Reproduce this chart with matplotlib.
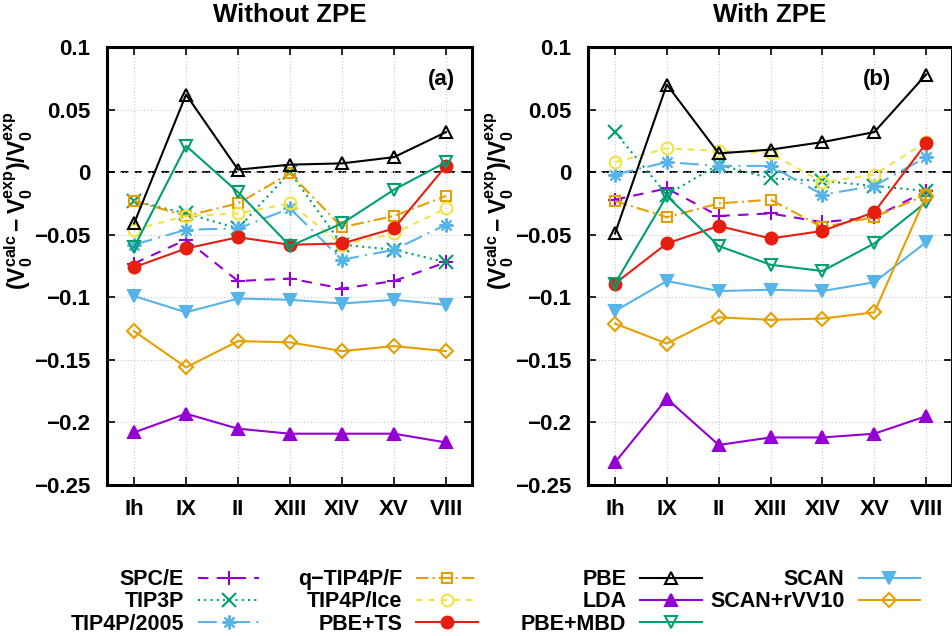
import numpy as np
from matplotlib import pyplot as plt

plt.rcParams['font.family'] = ['Liberation Sans', 'DejaVu Sans']
plt.rcParams['font.weight'] = 'bold'
plt.rcParams['font.size'] = 15.5
plt.rcParams['mathtext.fontset'] = 'custom'
plt.rcParams['mathtext.rm'] = 'Liberation Sans:bold'
plt.rcParams['mathtext.it'] = 'Liberation Sans:bold'
plt.rcParams['mathtext.bf'] = 'Liberation Sans:bold'
plt.rcParams['mathtext.default'] = 'bf'

phases = ["Ih", "IX", "II", "XIII", "XIV", "XV", "VIII"]
yticks = [0.1, 0.05, 0, -0.05, -0.1, -0.15, -0.2, -0.25]
ytick_labels = ["0.1", "0.05", "0", "\u22120.05", "\u22120.1", "\u22120.15", "\u22120.2", "\u22120.25"]

# without ZPE
a_spce = [-0.073, -0.054, -0.087, -0.085, -0.093, -0.087, -0.072]
a_tip3p = [-0.023, -0.033, -0.045, 0.0, -0.058, -0.062, -0.072]
a_tip4p2005 = [-0.058, -0.046, -0.045, -0.029, -0.070, -0.062, -0.042]
a_qtip4pf = [-0.023, -0.035, -0.025, -0.001, -0.044, -0.035, -0.019]
a_tip4pice = [-0.046, -0.035, -0.033, -0.025, -0.058, -0.049, -0.029]
a_pbets = [-0.076, -0.061, -0.052, -0.058, -0.057, -0.045, 0.005]
a_pbe = [-0.041, 0.062, 0.002, 0.006, 0.007, 0.012, 0.032]
a_lda = [-0.208, -0.193, -0.205, -0.209, -0.209, -0.209, -0.216]
a_pbembd = [-0.060, 0.021, -0.016, -0.059, -0.041, -0.014, 0.008]
a_scan = [-0.099, -0.112, -0.101, -0.102, -0.105, -0.102, -0.106]
a_scanrvv10 = [-0.127, -0.156, -0.135, -0.136, -0.143, -0.139, -0.143]

# with ZPE
b_spce = [-0.022, -0.013, -0.035, -0.033, -0.040, -0.036, -0.015]
b_tip3p = [0.032, -0.018, 0.006, -0.005, -0.007, -0.011, -0.015]
b_tip4p2005 = [-0.002, 0.008, 0.005, 0.005, -0.018, -0.011, 0.012]
b_qtip4pf = [-0.023, -0.036, -0.025, -0.022, -0.044, -0.036, -0.018]
b_tip4pice = [0.008, 0.019, 0.017, 0.015, -0.008, -0.002, 0.024]
b_pbets = [-0.089, -0.057, -0.043, -0.053, -0.047, -0.032, 0.023]
b_pbe = [-0.049, 0.070, 0.015, 0.018, 0.024, 0.032, 0.078]
b_lda = [-0.232, -0.181, -0.218, -0.212, -0.212, -0.209, -0.195]
b_pbembd = [-0.089, -0.019, -0.059, -0.074, -0.079, -0.057, -0.024]
b_scan = [-0.111, -0.087, -0.095, -0.094, -0.095, -0.088, -0.056]
b_scanrvv10 = [-0.121, -0.137, -0.116, -0.118, -0.117, -0.112, -0.019]

purple = "#9400d3"
green = "#009e73"
blue = "#56b4e9"
orange = "#e69f00"
yellow = "#f0e442"
red = "#e51e10"

# label, color, linestyle, marker, filled
styles = [
    ("SPC/E", purple, (0, (5, 4)), "+", True),
    ("TIP3P", green, (0, (1, 2)), "x", True),
    ("TIP4P/2005", blue, (0, (9, 3, 1, 3)), (8, 2, 0), True),
    ("q\u2212TIP4P/F", orange, (0, (6, 2, 1, 2)), "s", False),
    ("TIP4P/Ice", yellow, (0, (3, 3)), "o", False),
    ("PBE+TS", red, "-", "o", True),
    ("PBE", "black", "-", "^", False),
    ("LDA", purple, "-", "^", True),
    ("PBE+MBD", green, "-", "v", False),
    ("SCAN", blue, "-", "v", True),
    ("SCAN+rVV10", orange, "-", "D", False),
]

data_a = [a_spce, a_tip3p, a_tip4p2005, a_qtip4pf, a_tip4pice, a_pbets,
          a_pbe, a_lda, a_pbembd, a_scan, a_scanrvv10]
data_b = [b_spce, b_tip3p, b_tip4p2005, b_qtip4pf, b_tip4pice, b_pbets,
          b_pbe, b_lda, b_pbembd, b_scan, b_scanrvv10]

fig = plt.figure(figsize=(9.53, 6.36), dpi=100)
ax_a = fig.add_axes([0.1123, 0.2374, 0.383, 0.6887])
ax_b = fig.add_axes([0.617, 0.2374, 0.382, 0.6887])

x = np.arange(len(phases))
handles = []
for ax, data, title, tag, tagx in [(ax_a, data_a, "Without ZPE", "(a)", 0.915),
                                   (ax_b, data_b, "With ZPE", "(b)", 0.794)]:
    ax.axhline(0, color="black", lw=1.4, ls=(0, (4, 3)), zorder=1)
    hs = []
    for (label, color, ls, mk, filled), vals in zip(styles, data):
        ms = 7 if mk in ("D", "s") else 8.5
        if mk in ("+", "x") or mk == (8, 2, 0):
            ms = 10
        line, = ax.plot(x, vals, color=color, ls=ls, lw=1.5, marker=mk, ms=ms,
                        mew=1.5, mfc=color if filled else "none", mec=color,
                        label=label, zorder=3)
        hs.append(line)
    handles.append(hs)
    ax.set_xlim(-0.52, 6.5)
    ax.set_ylim(-0.25, 0.1)
    ax.set_xticks(x)
    ax.set_xticklabels(phases, fontsize=16)
    ax.set_yticks(yticks)
    ax.set_yticklabels(ytick_labels, fontsize=16)
    ax.tick_params(direction="in", length=6, width=1.2, top=True, right=True,
                   pad=10)
    ax.tick_params(axis="y", pad=12)
    ax.grid(True, color="#c8c8c8", ls=(0, (1, 2)), lw=0.8)
    for s in ax.spines.values():
        s.set_linewidth(2.2)
    ax.set_title(title, fontweight="bold", pad=18)
    ax.text(tagx, 0.925, tag, transform=ax.transAxes, ha="center", va="center",
            fontweight="bold", fontsize=16)
    ax.set_ylabel(r"$(V_0^{calc} - V_0^{exp})/V_0^{exp}$", fontsize=16.5)
    ax.yaxis.set_label_coords(-0.197, 0.65)

fig.legend(handles=handles[0][:6], loc="center", bbox_to_anchor=(0.2875, 0.0535),
           ncol=2, markerfirst=False, frameon=False, borderpad=0,
           labelspacing=0.05, handlelength=2.85, handletextpad=0.65,
           columnspacing=1.8, fontsize=15.5)
fig.legend(handles=handles[0][6:], loc="center", bbox_to_anchor=(0.756, 0.0535),
           ncol=2, markerfirst=False, frameon=False, borderpad=0,
           labelspacing=0.05, handlelength=2.85, handletextpad=0.65,
           columnspacing=0.4, fontsize=15.5)

plt.savefig("out.png", dpi=100)
